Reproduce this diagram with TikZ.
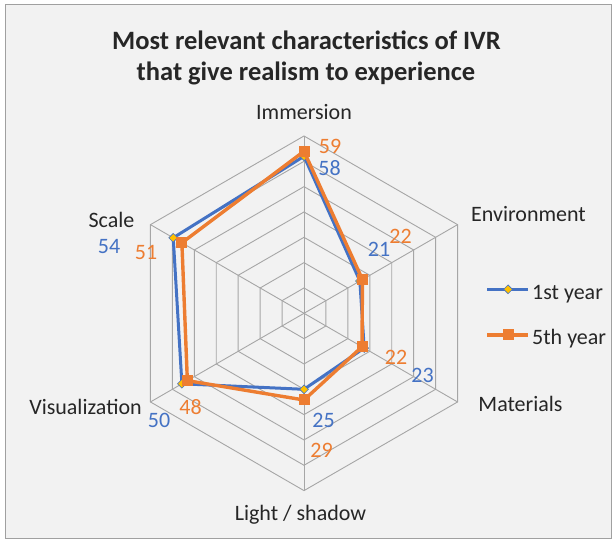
\documentclass[tikz,border=0pt]{standalone}
\usepackage{fontspec}
\setmainfont{Carlito}
\usetikzlibrary{shapes.geometric}
\definecolor{bgc}{HTML}{F2F2F2}
\definecolor{framec}{HTML}{A0A0A0}
\definecolor{gridc}{HTML}{A6A6A6}
\definecolor{bluec}{HTML}{4472C4}
\definecolor{orangec}{HTML}{ED7D31}
\definecolor{goldc}{HTML}{FFC000}
\tikzset{
  lbl/.style={inner sep=0pt, anchor=base, font=\fontsize{22}{26}\selectfont, text=black!85},
  bnum/.style={lbl, text=bluec},
  onum/.style={lbl, text=orangec},
  gridline/.style={draw=gridc, line width=0.9pt},
  bline/.style={draw=bluec, line width=3pt, line join=round},
  oline/.style={draw=orangec, line width=3.4pt, line join=round},
  bmark/.style={diamond, draw=bluec, fill=goldc, line width=0.6pt, inner sep=0pt, minimum width=9pt, minimum height=9pt},
  omark/.style={rectangle, fill=orangec, inner sep=0pt, minimum size=11pt},
}
\begin{document}
\begin{tikzpicture}[x=1pt,y=1pt]
\useasboundingbox (0,0) rectangle (615,543);
\fill[white] (0,0) rectangle (615,543);
\draw[framec, fill=bgc, line width=1pt] (5,5) rectangle (611,538);
% title
\node[lbl, font=\fontsize{26.5}{30}\bfseries] (t1) at (306.5,493.7) {Most relevant characteristics of IVR};
\node[lbl, font=\fontsize{26.5}{30}\bfseries] (t2) at (306,462) {that give realism to experience};
% grid
\coordinate (C) at (304,229.7);
\foreach \k in {1,...,7}{
  \draw[gridline] ([shift={(C)}]90:25.33*\k) -- ([shift={(C)}]30:25.33*\k) -- ([shift={(C)}]-30:25.33*\k) -- ([shift={(C)}]-90:25.33*\k) -- ([shift={(C)}]210:25.33*\k) -- ([shift={(C)}]150:25.33*\k) -- cycle;
}
\foreach \a in {90,30,-30,-90,210,150}{
  \draw[gridline] (C) -- ([shift={(C)}]\a:177.3);
}
% data points
\coordinate (b1) at ([shift={(C)}]90:157);
\coordinate (b2) at ([shift={(C)}]30:64.5);
\coordinate (b3) at ([shift={(C)}]-30:69.5);
\coordinate (b4) at ([shift={(C)}]-90:76);
\coordinate (b5) at ([shift={(C)}]210:141);
\coordinate (b6) at ([shift={(C)}]150:151);
\coordinate (o1) at ([shift={(C)}]90:162);
\coordinate (o2) at ([shift={(C)}]30:67.5);
\coordinate (o3) at ([shift={(C)}]-30:67);
\coordinate (o4) at ([shift={(C)}]-90:86.7);
\coordinate (o5) at ([shift={(C)}]210:134.7);
\coordinate (o6) at ([shift={(C)}]150:141);
\draw[bline] (b1) -- (b2) -- (b3) -- (b4) -- (b5) -- (b6) -- cycle;
\foreach \p in {b1,b2,b3,b4,b5,b6}{ \node[bmark] at (\p) {}; }
\draw[oline] (o1) -- (o2) -- (o3) -- (o4) -- (o5) -- (o6) -- cycle;
\foreach \p in {o1,o2,o3,o4,o5,o6}{ \node[omark] at (\p) {}; }
% axis labels
\node[lbl] (limm) at (304,423) {Immersion};
\node[lbl] (lenv) at (528.5,321.3) {Environment};
\node[lbl] (lmat) at (520.5,131.3) {Materials};
\node[lbl] (llig) at (300.5,23) {Light / shadow};
\node[lbl] (lvis) at (85.5,128) {Visualization};
\node[lbl] (lsca) at (111.5,315.7) {Scale};
% value labels
\node[onum] (v59) at (330,389.7) {59};
\node[bnum] (v58) at (329.5,367) {58};
\node[onum] (v22a) at (400.5,299.7) {22};
\node[bnum] (v21) at (379,286.3) {21};
\node[onum] (v22b) at (396,178) {22};
\node[bnum] (v23) at (422.5,160.3) {23};
\node[bnum] (v25) at (323.5,115.7) {25};
\node[onum] (v29) at (321.5,85.7) {29};
\node[onum] (v48) at (190.5,128) {48};
\node[bnum] (v50) at (159,115.3) {50};
\node[bnum] (v54) at (109,289.7) {54};
\node[onum] (v51) at (146,283.7) {51};
% legend
\coordinate (lb1) at (487,253.7);
\coordinate (lb2) at (528,253.7);
\draw[bline] (lb1) -- (lb2);
\node[bmark] (lbm) at (508,253.7) {};
\node[lbl, anchor=base west] (lbt) at (532,243) {1st year};
\coordinate (lo1) at (487,208);
\coordinate (lo2) at (528,208);
\draw[oline] (lo1) -- (lo2);
\node[omark] (lom) at (508,208) {};
\node[lbl, anchor=base west] (lot) at (532,198) {5th year};
\end{tikzpicture}
\end{document}
